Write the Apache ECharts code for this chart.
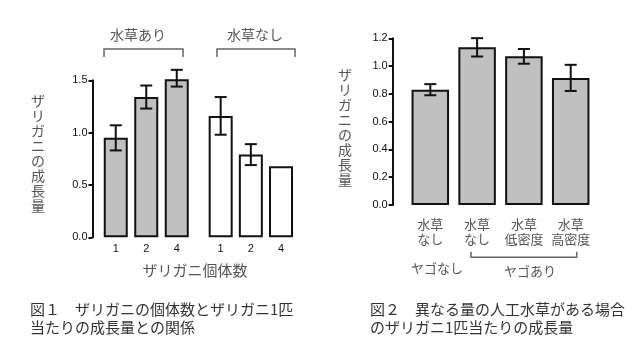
<!DOCTYPE html>
<html><head><meta charset="utf-8">
<script src="https://cdn.jsdelivr.net/npm/echarts@6/dist/echarts.min.js"></script>
<style>html,body{margin:0;padding:0;background:#fff}#c{width:640px;height:360px}</style>
</head><body><div id="c"></div>
<script>
// Figure 1 data
const counts = ['1', '2', '4'];
const groupNames = ['水草あり', '水草なし'];
const withPlant = [0.95, 1.34, 1.52];
const withPlantErr = [0.12, 0.11, 0.08];
const noPlant = [1.16, 0.79, 0.68];
const noPlantErr = [0.18, 0.10, 0];
const yTicks1 = [0, 0.5, 1.0, 1.5];
// Figure 2 data
const cats2 = ['水草\nなし', '水草\nなし', '水草\n低密度', '水草\n高密度'];
const yagoGroups = ['ヤゴなし', 'ヤゴあり'];
const growth2 = [0.83, 1.135, 1.07, 0.915];
const growth2Err = [0.04, 0.066, 0.053, 0.094];
const yTicks2 = [0, 0.2, 0.4, 0.6, 0.8, 1.0, 1.2];
const yTitle = 'ザリガニの成長量';
const xTitle1 = 'ザリガニ個体数';
const caption1 = '図１　ザリガニの個体数とザリガニ1匹\n当たりの成長量との関係';
const caption2 = '図２　異なる量の人工水草がある場合\nのザリガニ1匹当たりの成長量';

const JP = '"Noto Sans CJK JP", "Noto Sans", sans-serif';
const NUM = '"Liberation Sans", Arial, sans-serif';
const gray = '#555';

const chart = echarts.init(document.getElementById('c'), null, {renderer: 'canvas'});

function errData(vals, errs) {
  return vals.map((v, i) => [i, v - errs[i], v + errs[i]]).filter((d, i) => errs[i] > 0);
}
function errSeries(xi, yi, data, cap) {
  return {
    type: 'custom', xAxisIndex: xi, yAxisIndex: yi, z: 10, data: data,
    renderItem: function (params, api) {
      const lo = api.coord([api.value(0), api.value(1)]);
      const hi = api.coord([api.value(0), api.value(2)]);
      const x = lo[0];
      const st = {stroke: '#111', lineWidth: 2};
      return {type: 'group', children: [
        {type: 'line', shape: {x1: x, y1: lo[1], x2: x, y2: hi[1]}, style: st},
        {type: 'line', shape: {x1: x - cap, y1: lo[1], x2: x + cap, y2: lo[1]}, style: st},
        {type: 'line', shape: {x1: x - cap, y1: hi[1], x2: x + cap, y2: hi[1]}, style: st}
      ]};
    }
  };
}
const vTitle = yTitle.split('').join('\n');

const yAxisBase = {
  type: 'value', min: 0,
  splitLine: {show: false},
  axisLine: {show: true, lineStyle: {color: '#111', width: 2}},
  axisTick: {show: true, length: 4, lineStyle: {color: '#111', width: 2}},
  axisLabel: {color: '#111', fontSize: 11, fontFamily: NUM, margin: 5,
    formatter: v => v.toFixed(1)}
};

const option = {
  animation: false,
  backgroundColor: '#fff',
  grid: [
    {left: 100.5, top: 80.3, width: 91.5, height: 157},
    {left: 205.6, top: 80.3, width: 90.5, height: 157},
    {left: 406.9, top: 38.3, width: 187.2, height: 166.7}
  ],
  xAxis: [
    {type: 'category', gridIndex: 0, data: counts, axisLine: {show: false}, axisTick: {show: false},
      axisLabel: {interval: 0, color: '#111', fontSize: 11, fontFamily: NUM, margin: 6}},
    {type: 'category', gridIndex: 1, data: counts, axisLine: {show: false}, axisTick: {show: false},
      axisLabel: {interval: 0, color: '#111', fontSize: 11, fontFamily: NUM, margin: 6}},
    {type: 'category', gridIndex: 2, data: cats2, axisLine: {show: false}, axisTick: {show: false},
      axisLabel: {interval: 0, hideOverlap: false, color: gray, fontSize: 13, fontFamily: JP, margin: 12, lineHeight: 15}}
  ],
  yAxis: [
    Object.assign({}, yAxisBase, {gridIndex: 0, max: 1.5, interval: 0.5, offset: 8}),
    {type: 'value', gridIndex: 1, min: 0, max: 1.5, show: false},
    Object.assign({}, yAxisBase, {gridIndex: 2, max: 1.2, interval: 0.2, offset: 14.2})
  ],
  series: [
    {type: 'bar', xAxisIndex: 0, yAxisIndex: 0, data: withPlant, barWidth: 24,
      itemStyle: {color: '#c0c0c0', borderColor: '#111', borderWidth: 2}},
    {type: 'bar', xAxisIndex: 1, yAxisIndex: 1, data: noPlant, barWidth: 24,
      itemStyle: {color: '#ffffff', borderColor: '#111', borderWidth: 2}},
    {type: 'bar', xAxisIndex: 2, yAxisIndex: 2, data: growth2, barWidth: 37.5,
      itemStyle: {color: '#c0c0c0', borderColor: '#111', borderWidth: 2}},
    errSeries(0, 0, errData(withPlant, withPlantErr), 6),
    errSeries(1, 1, errData(noPlant, noPlantErr), 6),
    errSeries(2, 2, errData(growth2, growth2Err), 6)
  ],
  graphic: [
    // Figure 1 group brackets and labels
    {type: 'polyline', shape: {points: [[104, 57], [104, 49], [183, 49], [183, 57]]},
      style: {stroke: '#666', lineWidth: 1.5, fill: null}},
    {type: 'polyline', shape: {points: [[217, 57], [217, 49], [295, 49], [295, 57]]},
      style: {stroke: '#666', lineWidth: 1.5, fill: null}},
    {type: 'text', x: 138, y: 35, style: {text: groupNames[0], font: '14px ' + JP, fill: gray, align: 'center', verticalAlign: 'middle'}},
    {type: 'text', x: 255, y: 35, style: {text: groupNames[1], font: '14px ' + JP, fill: gray, align: 'center', verticalAlign: 'middle'}},
    {type: 'text', x: 195, y: 270, style: {text: xTitle1, font: '15px ' + JP, fill: gray, align: 'center', verticalAlign: 'middle'}},
    {type: 'text', x: 38, y: 153, style: {text: vTitle, font: '14px ' + JP, lineHeight: 15, fill: gray, align: 'center', verticalAlign: 'middle'}},
    // Figure 2
    {type: 'text', x: 345, y: 127.5, style: {text: vTitle, font: '14px ' + JP, lineHeight: 15, fill: gray, align: 'center', verticalAlign: 'middle'}},
    {type: 'polyline', shape: {points: [[471, 251.7], [471, 257.3], [576.7, 257.3], [576.7, 251.7]]},
      style: {stroke: '#666', lineWidth: 1.5, fill: null}},
    {type: 'text', x: 437, y: 268, style: {text: yagoGroups[0], font: '13px ' + JP, fill: gray, align: 'center', verticalAlign: 'middle'}},
    {type: 'text', x: 530, y: 271, style: {text: yagoGroups[1], font: '13px ' + JP, fill: gray, align: 'center', verticalAlign: 'middle'}},
    // Captions
    {type: 'text', x: 30, y: 300, style: {text: caption1, font: '15px ' + JP, lineHeight: 18, fill: '#333', align: 'left', verticalAlign: 'top'}},
    {type: 'text', x: 370, y: 300, style: {text: caption2, font: '15px ' + JP, lineHeight: 18, fill: '#333', align: 'left', verticalAlign: 'top'}}
  ]
};
chart.setOption(option);
</script>
</body></html>
